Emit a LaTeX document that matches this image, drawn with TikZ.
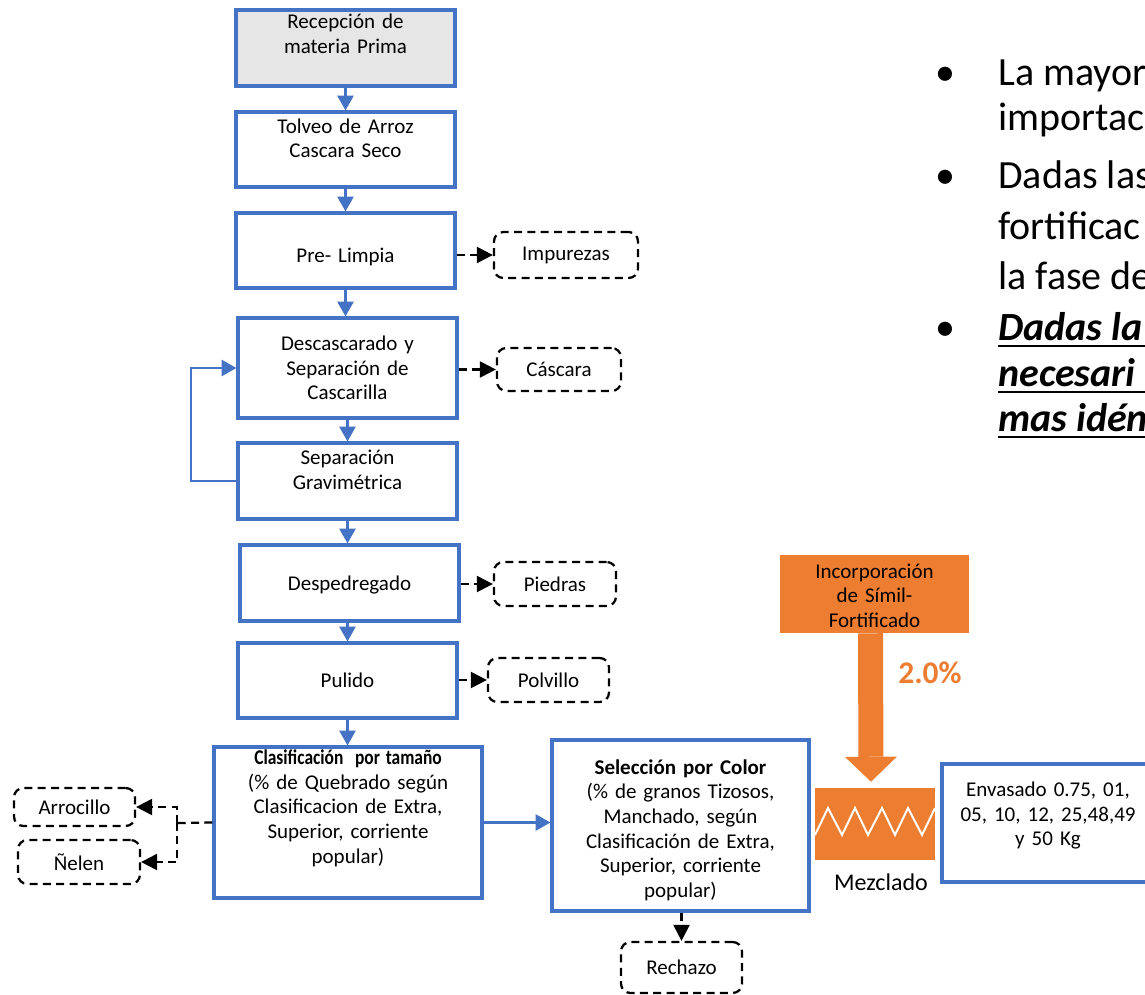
\documentclass[tikz,border=0pt]{standalone}
\usepackage{fontspec}
\setmainfont{Carlito}
\usetikzlibrary{arrows.meta,calc}
\definecolor{bl}{HTML}{4472C4}
\definecolor{og}{HTML}{ED7D31}
\definecolor{gy}{HTML}{E7E6E6}
\begin{document}
\begin{tikzpicture}[x=0.75pt,y=-0.75pt,
  every node/.style={font=\fontsize{15.75}{18.5}\selectfont, inner sep=0pt},
  box/.style={draw=bl, line width=2.4pt, fill=white, align=center},
  dbox/.style={draw=black, line width=1.7pt, dash pattern=on 6pt off 4pt, rounded corners=7pt, align=center},
  flow/.style={draw=bl, line width=1.6pt, -{Triangle[width=12pt,length=11pt]}},
  side/.style={draw=black, line width=1.7pt, dash pattern=on 6pt off 4pt, -{Triangle[width=12pt,length=12pt]}},
  big/.style={font=\fontsize{30}{36}\selectfont, anchor=base west},
  bigb/.style={font=\fontsize{30}{36}\selectfont\bfseries\itshape, anchor=base west}
]
\useasboundingbox (0,0) rectangle (1145,995);
\begin{scope}
\clip (0,0) rectangle (1145,995);

% main flow boxes
\node[box, fill=gy, minimum width=164.25pt, minimum height=57pt, text width=156pt] (rec) at (345.5,48) {Recepción de\\materia Prima\\[-3pt]\strut};
\node[box, minimum width=164.25pt, minimum height=56.25pt, text width=156pt] (tol) at (345.5,149.5) {Tolveo de Arroz\\Cascara Seco\\[-7pt]\strut};
\node[box, minimum width=164.25pt, minimum height=56.25pt, text width=156pt] (pre) at (345.5,250.5) {\rule{0pt}{21pt}Pre- Limpia};
\node[box, minimum width=164.25pt, minimum height=75pt, text width=156pt] (desc) at (347.5,368) {Descascarado y\\Separación de\\Cascarilla};
\node[box, minimum width=164.25pt, minimum height=57pt, text width=156pt] (sep) at (347.5,481) {Separación\\Gravimétrica\\[-7pt]\strut};
\node[box, minimum width=164.25pt, minimum height=57pt, text width=156pt] (desp) at (349.5,583) {\rule{0pt}{14pt}Despedregado};
\node[box, minimum width=164.25pt, minimum height=56.25pt, text width=156pt] (pul) at (347.5,680.5) {Pulido};
\node[box, minimum width=201pt, minimum height=113.25pt, text width=193pt] (clas) at (348,822.5) {\scalebox{0.83}[1]{\textbf{Clasificación\ \ por tamaño}}\\(\% de Quebrado según\\Clasificacion de Extra,\\Superior, corriente\\popular)\\\strut};
\node[box, minimum width=192.75pt, minimum height=128.25pt, text width=185pt] (sel) at (680.5,825.5) {\rule{0pt}{18pt}\textbf{Selección por Color}\\(\% de granos Tizosos,\\Manchado, según\\Clasificación de Extra,\\Superior, corriente\\popular)};
\node[box, minimum width=156pt, minimum height=88.5pt, text width=150pt] (env) at (1046,823) {\hspace*{3pt}Envasado 0.75, 01,\\\hspace*{3pt}05, 10, 12, 25,48,49\\\hspace*{3pt}y 50 Kg\\[-10.5pt]\strut};

% orange parts
\node[fill=og, minimum width=141.75pt, minimum height=58.5pt, text width=135pt, align=center] (inc) at (874.5,594) {\rule{0pt}{13.5pt}Incorporación\\de Símil-\\Fortificado};
\node[fill=og, minimum width=90pt, minimum height=54pt] (mez) at (875,824) {};
\draw[white, line width=1.5pt] (815,835) -- (828,808) -- (842,835) -- (855,808) -- (868,835) -- (882,808) -- (895,835) -- (908,808) -- (922,835) -- (935,808);
\node[font=\fontsize{18}{22}\selectfont] (mezl) at (881,882) {Mezclado};
\node[font=\fontsize{23.6}{28}\selectfont\bfseries, text=og] (pct) at (930,673) {2.0\%};
\draw[og, line width=18.75pt, -{Triangle[width=39pt,length=18.75pt,line width=0pt]}] ([xshift=-3pt]inc.south) -- ([xshift=-3pt,yshift=4.5pt]mez.north);

% dashed outputs
\node[dbox, minimum width=108pt, minimum height=34.5pt] (imp) at (566,255) {Impurezas};
\node[dbox, minimum width=93pt, minimum height=32.25pt] (casc) at (559,369.5) {Cáscara};
\node[dbox, minimum width=91.5pt, minimum height=33pt] (pied) at (555,584) {Piedras};
\node[dbox, minimum width=90.75pt, minimum height=33pt] (polv) at (548.5,680) {Polvillo};
\node[dbox, minimum width=90.75pt, minimum height=28.5pt] (arro) at (74.5,807) {Arrocillo};
\node[dbox, minimum width=91.5pt, minimum height=33pt] (nel) at (79,862) {Ñelen};
\node[dbox, minimum width=90.75pt, minimum height=38.25pt] (rech) at (681.5,967.5) {Rechazo};

% blue flow connectors
\draw[flow] (rec.south) -- (tol.north);
\draw[flow] (tol.south) -- (pre.north);
\draw[flow] (pre.south) -- (pre.south |- desc.north);
\draw[flow] (desc.south) -- (sep.north);
\draw[flow] (sep.south) -- (sep.south |- desp.north);
\draw[flow] (desp.south -| pul.south) -- (pul.north);
\draw[flow] (pul.south) -- (pul.south |- clas.north);
\draw[flow] (sep.west) -- ++(-45,0) |- (desc.west);
\draw[flow] (clas.east) -- (clas.east -| sel.west);

% dashed connectors
\draw[side] (imp.west -| pre.east) -- (imp.west);
\draw[side] (casc.west -| desc.east) -- (casc.west);
\draw[side] (pied.west -| desp.east) -- (pied.west);
\draw[side] (polv.west -| pul.east) -- (polv.west);
\coordinate (split) at (177,823);
\draw[draw=black, line width=1.7pt, dash pattern=on 6pt off 4pt] (clas.west) -- (split);
\draw[side] (split) |- (arro.east);
\draw[side] (split) |- (nel.east);
\draw[side] (sel.south -| rech.north) -- (rech.north);

% right-hand bullet text (cut at the edge, as in the reference)
\node[big] (d1) at (935,86) {•};
\node[big] (t1) at (998,86) {La mayor};
\node[big] (t2) at (998,131) {importac};
\node[big] (d2) at (935,188) {•};
\node[big] (t3) at (998,188) {Dadas las};
\node[big] (t4) at (998,239) {fortificac};
\node[big] (t5) at (998,289) {la fase de};
\node[big] (d3) at (935,340) {•};
\node[bigb] (t6) at (998,340) {Dadas la};
\node[bigb] (t7) at (998,386) {necesari};
\node[bigb] (t8) at (998,431) {mas idén};
\foreach \t in {t6,t7,t8}{
  \draw[line width=1.6pt] ([yshift=-4.5pt]\t.base west) -- ([yshift=-4.5pt,xshift=20pt]\t.base east);
}
\end{scope}
\end{tikzpicture}
\end{document}
